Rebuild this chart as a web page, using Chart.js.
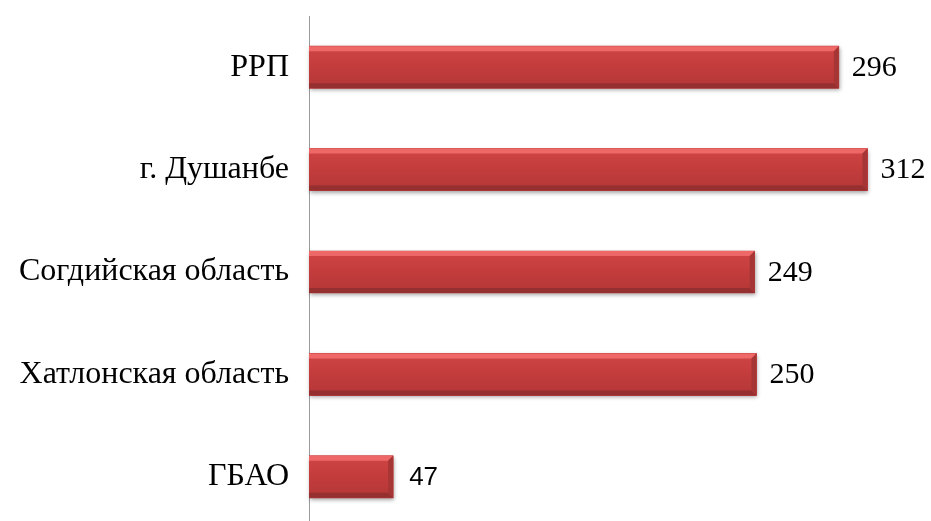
<!DOCTYPE html>
<html>
<head>
<meta charset="utf-8">
<script src="https://cdn.jsdelivr.net/npm/chart.js@4/dist/chart.umd.min.js"></script>
<style>
  html, body { margin: 0; padding: 0; background: #fff; overflow: hidden; }
  canvas { display: block; }
</style>
</head>
<body>
<canvas id="regionChart" width="931" height="531"></canvas>
<script>
const regions = ['РРП', 'г. Душанбе', 'Согдийская область', 'Хатлонская область', 'ГБАО'];
const counts = [296, 312, 249, 250, 47];
const axisMax = 347.5;

// bevelled 3D look on top of the library's bars
const bevelBars = {
    id: 'bevelBars',
    beforeDatasetsDraw(chart) {
        const ctx = chart.ctx;
        chart.getDatasetMeta(0).data.forEach(bar => {
            const top = bar.y - bar.height / 2;
            ctx.save();
            ctx.shadowColor = 'rgba(0,0,0,0.35)';
            ctx.shadowBlur = 4;
            ctx.shadowOffsetY = 2;
            ctx.shadowOffsetX = 1;
            ctx.fillStyle = '#b03535';
            ctx.fillRect(bar.base, top, bar.x - bar.base, bar.height);
            ctx.restore();
        });
    },
    afterDatasetsDraw(chart) {
        const ctx = chart.ctx;
        chart.getDatasetMeta(0).data.forEach(bar => {
            const l = bar.base, r = bar.x;
            const t = bar.y - bar.height / 2, b = bar.y + bar.height / 2;
            const bv = 5;
            ctx.save();
            const face = ctx.createLinearGradient(0, t, 0, b);
            face.addColorStop(0, '#d04545');
            face.addColorStop(0.5, '#c33c3c');
            face.addColorStop(1, '#b33737');
            ctx.fillStyle = face;
            ctx.fillRect(l, t, r - l, b - t);
            ctx.fillStyle = '#ee6868';
            ctx.beginPath();
            ctx.moveTo(l, t); ctx.lineTo(r, t); ctx.lineTo(r - bv, t + bv); ctx.lineTo(l, t + bv);
            ctx.closePath(); ctx.fill();
            ctx.fillStyle = '#962f2f';
            ctx.beginPath();
            ctx.moveTo(l, b); ctx.lineTo(r, b); ctx.lineTo(r - bv, b - bv); ctx.lineTo(l, b - bv);
            ctx.closePath(); ctx.fill();
            ctx.fillStyle = '#a63535';
            ctx.beginPath();
            ctx.moveTo(r, t); ctx.lineTo(r, b); ctx.lineTo(r - bv, b - bv); ctx.lineTo(r - bv, t + bv);
            ctx.closePath(); ctx.fill();
            ctx.restore();
        });
        // value labels
        ctx.save();
        ctx.fillStyle = '#000';
        ctx.textBaseline = 'middle';
        ctx.textAlign = 'left';
        chart.getDatasetMeta(0).data.forEach((bar, i) => {
            const v = chart.data.datasets[0].data[i];
            if (v < 100) {
                ctx.font = '26px "Liberation Sans", Arial, sans-serif';
                ctx.fillText(String(v), bar.x + 16, bar.y + 1);
            } else {
                ctx.font = '30px "Liberation Serif", "Times New Roman", serif';
                ctx.fillText(String(v), bar.x + 13, bar.y + 1);
            }
        });
        ctx.restore();
    }
};

const chart = new Chart(document.getElementById('regionChart'), {
    type: 'bar',
    data: {
        labels: regions,
        datasets: [{
            data: counts,
            backgroundColor: '#c23b3b',
            borderWidth: 0,
            barThickness: 42
        }]
    },
    options: {
        indexAxis: 'y',
        responsive: false,
        animation: false,
        layout: { padding: { top: 16, bottom: 3, left: 0, right: 0 } },
        scales: {
            x: {
                display: false,
                min: 0,
                max: axisMax
            },
            y: {
                afterFit(scale) {
                    scale.width = 309;
                    scale.paddingTop = 0;
                    scale.paddingBottom = 0;
                },
                grid: { display: false },
                border: { display: true, color: '#9a9a9a', width: 1 },
                ticks: {
                    color: '#000',
                    padding: 12,
                    font: { family: '"Liberation Serif", "Times New Roman", serif', size: 32 }
                }
            }
        },
        plugins: {
            legend: { display: false },
            tooltip: { enabled: false }
        }
    },
    plugins: [bevelBars]
});
</script>
</body>
</html>
